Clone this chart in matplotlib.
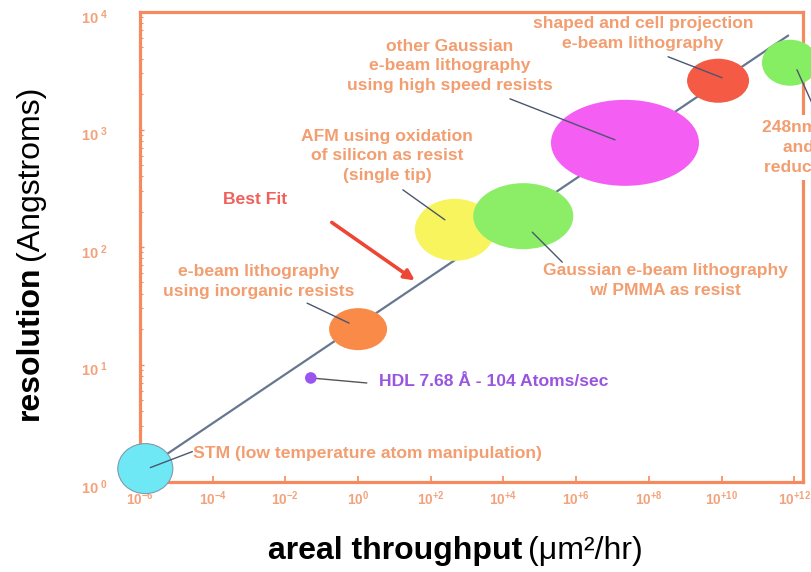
import numpy as np
import matplotlib
matplotlib.use("Agg")
import matplotlib.pyplot as plt
from matplotlib.patches import Ellipse
from matplotlib.transforms import ScaledTranslation
from matplotlib.ticker import FixedLocator, FixedFormatter, NullFormatter

plt.rcParams["font.family"] = ["Liberation Sans", "DejaVu Sans"]
plt.rcParams["mathtext.fontset"] = "custom"
plt.rcParams["mathtext.rm"] = "Liberation Sans:bold"
plt.rcParams["mathtext.bf"] = "Liberation Sans:bold"
plt.rcParams["mathtext.it"] = "Liberation Sans:bold"

# Lithography techniques: areal throughput (um^2/hr) vs resolution (Angstroms)
spot_names = [
    "STM (low temperature atom manipulation)",
    "e-beam lithography\nusing inorganic resists",
    "AFM using oxidation\nof silicon as resist\n(single tip)",
    "Gaussian e-beam lithography\nw/ PMMA as resist",
    "other Gaussian\ne-beam lithography\nusing high speed resists",
    "shaped and cell projection\ne-beam lithography",
    "248nm excimer laser\nand phase-shift\nreduction projection",
]
spot_throughput = [1.4e-6, 1.0, 4.6e2, 3.5e4, 2.2e7, 8.0e9, 7.6e11]
spot_resolution = [1.3, 20, 140, 183, 770, 2600, 3700]

hdl_label = "HDL 7.68 Å - 104 Atoms/sec"
hdl_throughput = [0.05]
hdl_resolution = [7.68]

# best-fit trend through the techniques
fit_throughput = [1.4e-6, 6.8e11]
fit_resolution = [1.3, 6300]

x_ticks = [1e-6, 1e-4, 1e-2, 1e0, 1e2, 1e4, 1e6, 1e8, 1e10, 1e12]
x_ticklabels = [r"$10^{-6}$", r"$10^{-4}$", r"$10^{-2}$", r"$10^{0}$", r"$10^{+2}$",
                r"$10^{+4}$", r"$10^{+6}$", r"$10^{+8}$", r"$10^{+10}$", r"$10^{+12}$"]
y_ticks = [1e0, 1e1, 1e2, 1e3, 1e4]
y_ticklabels = [r"$10^{\ 0}$", r"$10^{\ 1}$", r"$10^{\ 2}$", r"$10^{\ 3}$", r"$10^{\ 4}$"]

# ---- styling -------------------------------------------------------------
W, H = 811, 572
frame_col = "#F58A5E"
tick_col = "#F2A37C"
label_col = "#F29E70"
leader_col = "#4B5670"
spot_colors = ["#6FE8F5", "#F98A48", "#F7F45E", "#8CEE66", "#F45EF2", "#F45A44", "#86EE62"]
spot_w = [55, 58, 80, 100, 148, 62, 56]      # ellipse size in pixels
spot_h = [50, 42, 62, 66, 86, 44, 46]
# leader line: start / end offsets from the spot centre (pixels, y up)
leader_start = [(47, 17), (-51, 26), (-52, 40), (39, -46), (-115, 44), (-50, 24), (7, -7)]
leader_end = [(5, 1), (-9, 6), (-10, 10), (9, -16), (-10, 3), (4, 3), (25, -47)]
# label anchor offsets from spot centre (pixels, y up)
label_off = [(48, 15), (-99, 48), (-68, 74), (142, -64), (-175, 77), (-75, 47), (58, -85)]
label_ha = ["left", "center", "center", "center", "center", "center", "center"]
label_size = 12.6

fig = plt.figure(figsize=(W / 100, H / 100), dpi=100)
ax = fig.add_axes([140 / W, (H - 482) / H, (803 - 140) / W, (482 - 12) / H])
ax.set_xscale("log")
ax.set_yscale("log")
ax.set_xlim(1e-6, 10 ** 12.24)
ax.set_ylim(1, 1e4)

for s in ax.spines.values():
    s.set_color(frame_col)
    s.set_linewidth(2.3)

ax.xaxis.set_major_locator(FixedLocator(x_ticks))
ax.xaxis.set_major_formatter(FixedFormatter(x_ticklabels))
ax.xaxis.set_minor_locator(FixedLocator([]))
ax.yaxis.set_major_locator(FixedLocator(y_ticks))
ax.yaxis.set_major_formatter(FixedFormatter(y_ticklabels))
ax.yaxis.set_minor_locator(FixedLocator(
    [m * 10 ** e for e in range(4) for m in range(2, 10)]))
ax.yaxis.set_minor_formatter(NullFormatter())
ax.tick_params(axis="x", which="major", direction="in", length=4, width=1.2,
               color=frame_col, labelcolor=tick_col, labelsize=9.8, pad=5)
ax.tick_params(axis="y", which="major", direction="in", length=3, width=1.0,
               color=frame_col, labelcolor=tick_col, labelsize=10.5, pad=23)
ax.tick_params(axis="y", which="minor", direction="in", length=2.5, width=0.8,
               color=frame_col)
shift_down = ScaledTranslation(0, -4 / 100, fig.dpi_scale_trans)
for lbl in ax.get_yticklabels():
    lbl.set_transform(lbl.get_transform() + shift_down)

# trend line
ax.plot(fit_throughput, fit_resolution, color="#667790", lw=1.6, zorder=2,
        solid_capstyle="round")


def leader(p_from, p_to, color=leader_col, z=4):
    ax.annotate("", xy=p_to, xycoords="figure pixels",
                xytext=p_from, textcoords="figure pixels",
                arrowprops=dict(arrowstyle="-", color=color, lw=1.0,
                                shrinkA=0, shrinkB=0),
                annotation_clip=False, zorder=z)


# technique spots with their labels
for i in range(len(spot_names)):
    x, y = spot_throughput[i], spot_resolution[i]
    tr = fig.dpi_scale_trans + ScaledTranslation(x, y, ax.transData)
    ax.add_patch(Ellipse((0, 0), spot_w[i] / 100, spot_h[i] / 100, transform=tr,
                         facecolor=spot_colors[i],
                         edgecolor="#7F9AAE" if i == 0 else "none", lw=0.8,
                         zorder=3, clip_on=False))
    cx, cy = ax.transData.transform((x, y))
    leader((cx + leader_start[i][0], cy + leader_start[i][1]),
           (cx + leader_end[i][0], cy + leader_end[i][1]))
    bbox = None
    if i == len(spot_names) - 1:
        bbox = dict(boxstyle="square,pad=0.3", fc="white", ec="none")
    ax.annotate(spot_names[i], xy=(x, y), xytext=label_off[i],
                textcoords="offset pixels", ha=label_ha[i], va="center",
                multialignment="center", color=label_col, fontsize=label_size,
                fontweight="bold", linespacing=1.4, zorder=5,
                annotation_clip=False, bbox=bbox)

# HDL point
ax.scatter(hdl_throughput, hdl_resolution, s=70, color="#9A55EE", zorder=4,
           edgecolors="none", clip_on=False)
hx, hy = ax.transData.transform((hdl_throughput[0], hdl_resolution[0]))
leader((hx, hy), (hx + 56, hy - 5), color="#555555", z=3)
ax.annotate(hdl_label, xy=(hdl_throughput[0], hdl_resolution[0]), xytext=(68, -4),
            textcoords="offset pixels", ha="left", va="center",
            color="#9A55E0", fontsize=label_size, fontweight="bold", zorder=5)

# best-fit callout
lx = np.log10(fit_throughput)
ly = np.log10(fit_resolution)
bx = 32.0
by = 10 ** np.interp(np.log10(bx), lx, ly)
pb = ax.transData.transform((bx, by))
ax.annotate("", xy=(pb[0] + 2, pb[1] + 8), xycoords="figure pixels",
            xytext=(pb[0] - 81, pb[1] + 66), textcoords="figure pixels",
            arrowprops=dict(arrowstyle="-|>,head_length=0.6,head_width=0.3",
                            color="#EE4635", lw=2.6, shrinkA=0, shrinkB=0),
            zorder=5)
fig.text((pb[0] - 158) / W, (pb[1] + 89) / H, "Best Fit", ha="center",
         va="center", color="#F0605A", fontsize=label_size, fontweight="bold")


# axis titles: bold name followed by regular-weight unit
def two_part(cx, cy, bold, normal, size, rotation):
    t1 = fig.text(0, 0, bold, fontsize=size, fontweight="bold", rotation=rotation)
    t2 = fig.text(0, 0, normal, fontsize=size, rotation=rotation)
    fig.canvas.draw()
    r = fig.canvas.get_renderer()
    b1 = t1.get_window_extent(r)
    b2 = t2.get_window_extent(r)
    gap = 6
    if rotation == 0:
        total = b1.width + gap + b2.width
        x0 = cx - total / 2
        for t, xx in ((t1, x0), (t2, x0 + b1.width + gap)):
            t.set_position((xx / W, 1 - cy / H))
            t.set_ha("left")
            t.set_va("center_baseline")
    else:
        total = b1.height + gap + b2.height
        y0 = (H - cy) - total / 2
        for t, yy in ((t1, y0), (t2, y0 + b1.height + gap)):
            t.set_position((cx / W, yy / H))
            t.set_ha("center")
            t.set_va("bottom")


two_part(455, 548, "areal throughput", "(μm²/hr)", 23, 0)
two_part(30, 253, "resolution", "(Angstroms)", 23, 90)

fig.savefig("out.png", dpi=100)
